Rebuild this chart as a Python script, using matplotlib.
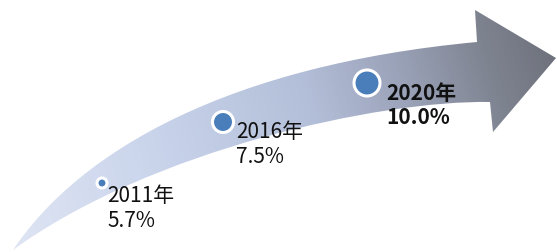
import numpy as np
import matplotlib
matplotlib.use("Agg")
import matplotlib.pyplot as plt
from matplotlib.path import Path
from matplotlib.patches import PathPatch, Circle
from matplotlib.colors import LinearSegmentedColormap

plt.rcParams['font.family'] = ['Noto Sans CJK SC', 'DejaVu Sans']

# 数据
years = ['2011年', '2016年', '2020年']
values = [5.7, 7.5, 10.0]

# 版式（像素坐标）
dot_xy = [(102, 183), (223, 122), (367, 83)]
dot_r = [5, 10.5, 13]
label_xy = [(107, 185), (236, 121), (386, 83)]
label_weight = ['normal', 'normal', 'bold']

W, H = 557, 252
fig = plt.figure(figsize=(W / 100, H / 100), dpi=100)
ax = fig.add_axes([0, 0, 1, 1])
ax.set_xlim(0, W)
ax.set_ylim(H, 0)
ax.axis('off')

# 弯曲箭头
verts = [(13, 250), (80, 150), (230, 65), (477, 42),
         (475, 10), (556, 58), (493, 132), (490, 102),
         (380, 100), (150, 150), (13, 250), (13, 250)]
codes = [Path.MOVETO, Path.CURVE4, Path.CURVE4, Path.CURVE4,
         Path.LINETO, Path.LINETO, Path.LINETO, Path.LINETO,
         Path.CURVE4, Path.CURVE4, Path.CURVE4, Path.CLOSEPOLY]
arrow = PathPatch(Path(verts, codes), facecolor='none', edgecolor='none')
ax.add_patch(arrow)

cmap = LinearSegmentedColormap.from_list('arr', [
    (0.0, '#e0e6f4'), (0.32, '#c7d2ea'), (0.56, '#b3bed8'),
    (0.72, '#9aa2b8'), (0.86, '#7f8491'), (1.0, '#6a6d77')])
xx, yy = np.meshgrid(np.arange(W) + 0.5, np.arange(H) + 0.5)
grad = (xx + 0.3 * (H - yy)) / (W + 0.3 * H)
img = ax.imshow(grad, cmap=cmap, extent=(0, W, H, 0), vmin=0, vmax=1,
                interpolation='bilinear', aspect='auto')
img.set_clip_path(arrow)

# 圆点与标签
for (x, y), r in zip(dot_xy, dot_r):
    ax.add_patch(Circle((x, y), r, facecolor='#4a7ebb', edgecolor='white',
                        linewidth=2.2, zorder=3))

for yr, v, (x, y), w in zip(years, values, label_xy, label_weight):
    ax.text(x, y, f'{yr}\n{v:.1f}%', fontsize=15, fontweight=w,
            color='#111111', va='top', ha='left', linespacing=1.2, zorder=4)

fig.savefig('out.png', dpi=100)
